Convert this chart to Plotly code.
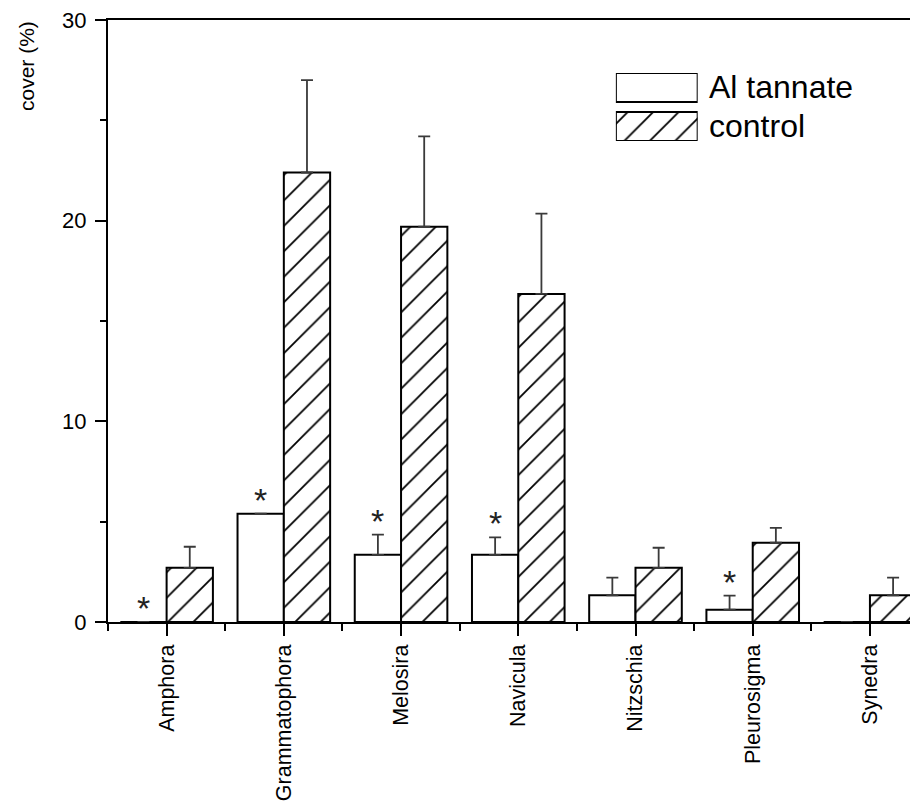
import plotly.graph_objects as go

categories = ["Amphora", "Grammatophora", "Melosira", "Navicula", "Nitzschia", "Pleurosigma", "Synedra"]
al_tannate = [0, 5.4, 3.35, 3.35, 1.33, 0.61, 0]
al_tannate_err = [0, 0, 1.0, 0.87, 0.88, 0.7, 0]
control = [2.7, 22.4, 19.7, 16.35, 2.7, 3.95, 1.33]
control_err = [1.05, 4.6, 4.5, 4.0, 1.0, 0.74, 0.88]
significant = [True, True, True, True, False, True, False]
y_ticks = [0, 10, 20, 30]
y_minor = [5, 15, 25]

FONT = "Liberation Sans, Arial, sans-serif"
BARGAP = 0.21
bw = (1 - BARGAP) / 2
xs = list(range(len(categories)))
hatch = dict(shape="/", fgcolor="black", fgopacity=1, bgcolor="white", fillmode="replace",
             size=18, solidity=0.1)

fig = go.Figure()
err_style = dict(type="data", symmetric=False, color="#3a3a3a", thickness=1.8, width=6)
fig.add_trace(go.Bar(
    x=xs, y=al_tannate, name="Al tannate",
    marker=dict(color="white", line=dict(color="black", width=2)),
    error_y=dict(array=al_tannate_err, arrayminus=[0] * len(xs), **err_style),
    showlegend=False,
))
fig.add_trace(go.Bar(
    x=xs, y=control, name="control",
    marker=dict(color="black", line=dict(color="black", width=2), pattern=hatch),
    error_y=dict(array=control_err, arrayminus=[0] * len(xs), **err_style),
    showlegend=False,
))

# significance asterisks above Al tannate bars
for i, sig in enumerate(significant):
    if sig:
        fig.add_annotation(x=i - bw / 2, y=al_tannate[i] + al_tannate_err[i], xref="x", yref="y",
                           text="*", showarrow=False, yanchor="bottom", yshift=-7,
                           font=dict(family=FONT, size=34, color="#222"))

# legend boxes drawn on an overlay axis
fig.add_trace(go.Bar(x=[0], y=[29], base=[39], width=[1], offset=0, xaxis="x2", yaxis="y2",
                     marker=dict(color="white", line=dict(color="black", width=2)),
                     showlegend=False, cliponaxis=False, hoverinfo="skip"))
fig.add_trace(go.Bar(x=[0], y=[29], base=[0], width=[1], offset=0, xaxis="x2", yaxis="y2",
                     marker=dict(color="black", line=dict(color="black", width=2), pattern=hatch),
                     showlegend=False, cliponaxis=False, hoverinfo="skip"))
fig.add_annotation(x=0.7395, y=0.8879, xref="paper", yref="paper", text="Al tannate", showarrow=False,
                   xanchor="left", yanchor="middle", font=dict(family=FONT, size=32, color="black"))
fig.add_annotation(x=0.7395, y=0.8231, xref="paper", yref="paper", text="control", showarrow=False,
                   xanchor="left", yanchor="middle", font=dict(family=FONT, size=32, color="black"))

# y title
fig.add_annotation(x=-0.1, y=0.9236, xref="paper", yref="paper", text="cover (%)", showarrow=False,
                   textangle=-90, xanchor="center", yanchor="middle", font=dict(family=FONT, size=21, color="black"))

fig.update_layout(
    width=910, height=793,
    margin=dict(l=100, r=0, t=12, b=179, pad=0),
    paper_bgcolor="white", plot_bgcolor="white",
    barmode="group", bargap=BARGAP, bargroupgap=0,
    font=dict(family=FONT, size=20, color="black"),
    xaxis=dict(range=[-0.5, 6.41], tickmode="array", tickvals=xs, ticktext=categories,
               tickangle=-90, ticks="outside", ticklen=12, tickwidth=2, tickcolor="black",
               minor=dict(tickmode="array", tickvals=[x + 0.5 for x in [-1] + xs], ticks="outside",
                          ticklen=7, tickwidth=2, tickcolor="black"),
               showline=True, linewidth=2, linecolor="black", mirror=True,
               showgrid=False, zeroline=False, tickfont=dict(family=FONT, size=21.5, color="black")),
    yaxis=dict(range=[0, 30], tickmode="array", tickvals=y_ticks, ticks="outside", ticklen=11,
               tickwidth=2, tickcolor="black", ticklabelstandoff=4, ticklabeloverflow="allow",
               minor=dict(tickmode="array", tickvals=y_minor, ticks="outside", ticklen=6,
                          tickwidth=2, tickcolor="black"),
               showline=True, linewidth=2, linecolor="black", mirror=False,
               showgrid=False, zeroline=False, tickfont=dict(family=FONT, size=22, color="black")),
    xaxis2=dict(domain=[0.627, 0.728], range=[0, 1], visible=False, anchor="y2"),
    yaxis2=dict(domain=[0.799, 0.912], range=[0, 68], visible=False, anchor="x2"),
)

fig.write_html("out.html")
